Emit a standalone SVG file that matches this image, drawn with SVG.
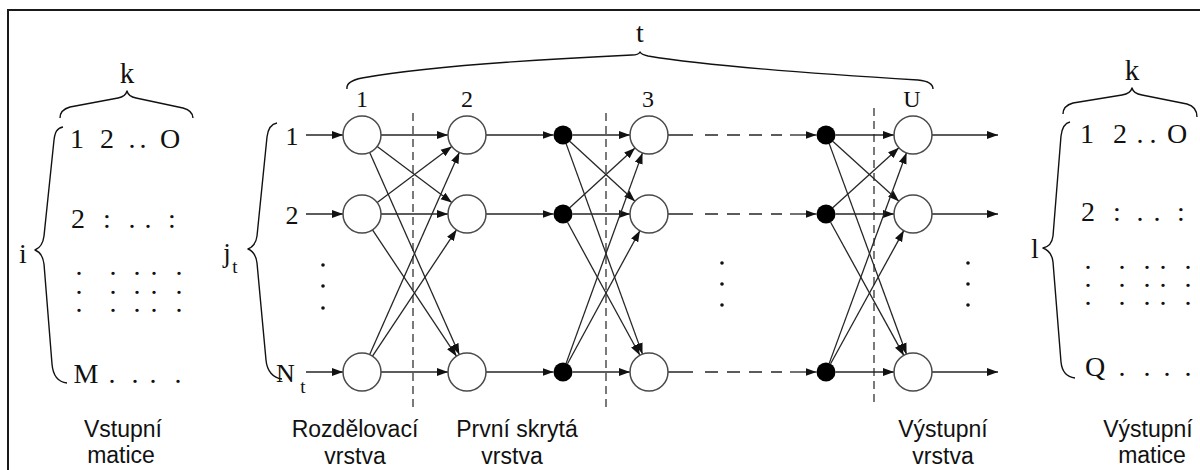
<svg xmlns="http://www.w3.org/2000/svg" width="1200" height="470" viewBox="0 0 1200 470">
  <style>
    .frame { fill: #fff; stroke: #1a1a1a; stroke-width: 2; }
    .brace { fill: none; stroke: #111; stroke-width: 1.4; stroke-linejoin: round; }
    .serif { font-family: "Liberation Serif", "Times New Roman", serif; fill: #111; }
    .sans { font-family: "Liberation Sans", Arial, sans-serif; fill: #111; font-size: 23px; text-anchor: middle; }
    .mat { font-size: 28px; text-anchor: middle; }
    .node { fill: #fff; stroke: #4a4a4a; stroke-width: 1.5; }
    .dot { fill: #000; }
    .edge { fill: none; stroke: #262626; stroke-width: 1.3; }
    .dash { fill: none; stroke: #262626; stroke-width: 1.3; stroke-dasharray: 13 9; }
    .sep { fill: none; stroke: #333; stroke-width: 1.3; stroke-dasharray: 8 5; }
    .ell { fill: #111; }
  </style>
  <defs>
    <marker id="ah" markerWidth="11" markerHeight="9" refX="11" refY="4.5" orient="auto" markerUnits="userSpaceOnUse">
      <path d="M0,0.5 L11,4.5 L0,8.5 z" fill="#111"/>
    </marker>
  </defs>

  <!-- frame -->
  <rect class="frame" x="8" y="10" width="1210" height="480"/>

  <!-- input matrix -->
  <g id="input-matrix">
    <text class="serif" x="127" y="83" font-size="29" text-anchor="middle">k</text>
    <path class="brace" d="M60,118 C60,112 63,109 70,107 L118,98 C123,97 126,95 127,91 C128,95 131,97 136,98 L183,108 C190,110 193,113 193,118"/>
    <text class="serif" x="23" y="263" font-size="28" text-anchor="middle">i</text>
    <path class="brace" d="M63,127 C57,128 55,132 54,140 L44,236 C43,244 40,248 35,250 C40,252 43,256 44,264 L52,364 C53,376 58,382 67,383"/>
    <text class="serif mat" x="77 107 132 143 170" y="148">12..O</text>
    <text class="serif mat" x="78 107 132 148 172" y="228">2:..:</text>
    <text class="serif mat" x="79 79 79 113 113 113 137 137 137 154 154 154 179 179 179" y="275 294 312 275 294 312 275 294 312 275 294 312 275 294 312">...............</text>
    <text class="serif mat" x="86 112 135 153 178" y="383">M....</text>
    <text class="sans" x="123" y="437">Vstupní</text>
    <text class="sans" x="121" y="463">matice</text>
  </g>

  <!-- input index brace -->
  <g id="input-index">
    <text class="serif" x="227" y="262" font-size="27" text-anchor="middle">j</text>
    <text class="serif" x="235" y="273" font-size="19" text-anchor="middle">t</text>
    <path class="brace" d="M277,123 C271,124 268,129 267,137 L257,236 C256,244 253,247 248,249 C253,251 256,255 257,263 L266,360 C267,371 273,378 282,379"/>
    <text class="serif" x="292" y="145" font-size="26" text-anchor="middle">1</text>
    <text class="serif" x="292" y="224" font-size="26" text-anchor="middle">2</text>
    <text class="serif" x="276" y="382" font-size="26">N</text>
    <text class="serif" x="303" y="393" font-size="19" text-anchor="middle">t</text>
    <circle class="ell" cx="323" cy="265" r="1.8"/>
    <circle class="ell" cx="323" cy="286" r="1.8"/>
    <circle class="ell" cx="323" cy="308" r="1.8"/>
  </g>

  <!-- time brace -->
  <g id="time-span">
    <text class="serif" x="640" y="42" font-size="28" text-anchor="middle">t</text>
    <path class="brace" d="M347,89 C346,83 352,80 362,78 Q440,64 632,55 C636,55 639,54 640,52 C641,54 644,55 648,56 Q720,68 918,80 C928,81 933,84 933,89"/>
    <text class="serif" x="362" y="107" font-size="24" text-anchor="middle">1</text>
    <text class="serif" x="467" y="107" font-size="24" text-anchor="middle">2</text>
    <text class="serif" x="648" y="107" font-size="24" text-anchor="middle">3</text>
    <text class="serif" x="912" y="107" font-size="24" text-anchor="middle">U</text>
  </g>

  <!-- layer boundaries -->
  <g id="separators">
    <line class="sep" x1="413" y1="113" x2="413" y2="410"/>
    <line class="sep" x1="606" y1="113" x2="606" y2="410"/>
    <line class="sep" x1="874" y1="108" x2="874" y2="405"/>
  </g>

  <!-- connectors -->
  <g id="connectors">
    <!-- inputs -->
    <line class="edge" x1="306" y1="135" x2="343" y2="135" marker-end="url(#ah)"/>
    <line class="edge" x1="306" y1="214" x2="343" y2="214" marker-end="url(#ah)"/>
    <line class="edge" x1="306" y1="372" x2="343" y2="372" marker-end="url(#ah)"/>
    <!-- distribution layer to first hidden layer -->
    <line class="edge" x1="381" y1="135" x2="448" y2="135" marker-end="url(#ah)"/>
    <line class="edge" x1="381" y1="214" x2="448" y2="214" marker-end="url(#ah)"/>
    <line class="edge" x1="381" y1="372" x2="448" y2="372" marker-end="url(#ah)"/>
    <line class="edge" x1="377.2" y1="146.4" x2="451.8" y2="202.6" marker-end="url(#ah)"/>
    <line class="edge" x1="377.2" y1="202.6" x2="451.8" y2="146.4" marker-end="url(#ah)"/>
    <line class="edge" x1="372.5" y1="229.8" x2="456.5" y2="356.2" marker-end="url(#ah)"/>
    <line class="edge" x1="372.5" y1="356.2" x2="456.5" y2="229.8" marker-end="url(#ah)"/>
    <line class="edge" x1="369.7" y1="152.4" x2="459.3" y2="354.6" marker-end="url(#ah)"/>
    <line class="edge" x1="369.7" y1="354.6" x2="459.3" y2="152.4" marker-end="url(#ah)"/>
    <!-- hidden outputs to junctions -->
    <line class="edge" x1="486" y1="135" x2="553.5" y2="135" marker-end="url(#ah)"/>
    <line class="edge" x1="486" y1="214" x2="553.5" y2="214" marker-end="url(#ah)"/>
    <line class="edge" x1="486" y1="372" x2="553.5" y2="372" marker-end="url(#ah)"/>
    <!-- junctions to layer 3 -->
    <line class="edge" x1="572.5" y1="135" x2="630" y2="135" marker-end="url(#ah)"/>
    <line class="edge" x1="572.5" y1="214" x2="630" y2="214" marker-end="url(#ah)"/>
    <line class="edge" x1="572.5" y1="372" x2="630" y2="372" marker-end="url(#ah)"/>
    <line class="edge" x1="570" y1="141.4" x2="635" y2="201.2" marker-end="url(#ah)"/>
    <line class="edge" x1="570" y1="207.6" x2="635" y2="147.9" marker-end="url(#ah)"/>
    <line class="edge" x1="567.5" y1="222.3" x2="639.9" y2="355.3" marker-end="url(#ah)"/>
    <line class="edge" x1="567.5" y1="363.7" x2="639.9" y2="230.7" marker-end="url(#ah)"/>
    <line class="edge" x1="566.2" y1="143.9" x2="642.5" y2="354.1" marker-end="url(#ah)"/>
    <line class="edge" x1="566.2" y1="363.1" x2="642.5" y2="152.9" marker-end="url(#ah)"/>
    <!-- elided layers -->
    <path class="edge" d="M668,135 H693 M668,214 H693 M668,372 H693"/>
    <path class="dash" d="M705,135 H782 M705,214 H782 M705,372 H782"/>
    <line class="edge" x1="790" y1="135" x2="816.5" y2="135" marker-end="url(#ah)"/>
    <line class="edge" x1="790" y1="214" x2="816.5" y2="214" marker-end="url(#ah)"/>
    <line class="edge" x1="790" y1="372" x2="816.5" y2="372" marker-end="url(#ah)"/>
    <circle class="ell" cx="722" cy="263" r="1.8"/>
    <circle class="ell" cx="722" cy="284" r="1.8"/>
    <circle class="ell" cx="722" cy="305" r="1.8"/>
    <!-- junctions to output layer -->
    <line class="edge" x1="835.5" y1="135" x2="894" y2="135" marker-end="url(#ah)"/>
    <line class="edge" x1="835.5" y1="214" x2="894" y2="214" marker-end="url(#ah)"/>
    <line class="edge" x1="835.5" y1="372" x2="894" y2="372" marker-end="url(#ah)"/>
    <line class="edge" x1="833" y1="141.4" x2="898.9" y2="201.2" marker-end="url(#ah)"/>
    <line class="edge" x1="833" y1="207.6" x2="898.9" y2="147.8" marker-end="url(#ah)"/>
    <line class="edge" x1="830.6" y1="222.3" x2="903.8" y2="355.4" marker-end="url(#ah)"/>
    <line class="edge" x1="830.6" y1="363.7" x2="903.8" y2="230.6" marker-end="url(#ah)"/>
    <line class="edge" x1="829.3" y1="143.9" x2="906.5" y2="354.2" marker-end="url(#ah)"/>
    <line class="edge" x1="829.3" y1="363.1" x2="906.5" y2="152.8" marker-end="url(#ah)"/>
    <!-- outputs -->
    <line class="edge" x1="932" y1="135" x2="998" y2="135" marker-end="url(#ah)"/>
    <line class="edge" x1="932" y1="214" x2="998" y2="214" marker-end="url(#ah)"/>
    <line class="edge" x1="932" y1="372" x2="998" y2="372" marker-end="url(#ah)"/>
    <circle class="ell" cx="968" cy="263" r="1.8"/>
    <circle class="ell" cx="968" cy="284" r="1.8"/>
    <circle class="ell" cx="968" cy="305" r="1.8"/>
  </g>

  <!-- distribution layer -->
  <g id="dist-1"><circle class="node" cx="362" cy="135" r="19"/></g>
  <g id="dist-2"><circle class="node" cx="362" cy="214" r="19"/></g>
  <g id="dist-n"><circle class="node" cx="362" cy="372" r="19"/></g>
  <!-- first hidden layer -->
  <g id="hid-1"><circle class="node" cx="467" cy="135" r="19"/></g>
  <g id="hid-2"><circle class="node" cx="467" cy="214" r="19"/></g>
  <g id="hid-n"><circle class="node" cx="467" cy="372" r="19"/></g>
  <g id="junc-a1"><circle class="dot" cx="563" cy="135" r="9.5"/></g>
  <g id="junc-a2"><circle class="dot" cx="563" cy="214" r="9.5"/></g>
  <g id="junc-an"><circle class="dot" cx="563" cy="372" r="9.5"/></g>
  <!-- layer 3 -->
  <g id="l3-1"><circle class="node" cx="649" cy="135" r="19"/></g>
  <g id="l3-2"><circle class="node" cx="649" cy="214" r="19"/></g>
  <g id="l3-n"><circle class="node" cx="649" cy="372" r="19"/></g>
  <g id="junc-b1"><circle class="dot" cx="826" cy="135" r="9.5"/></g>
  <g id="junc-b2"><circle class="dot" cx="826" cy="214" r="9.5"/></g>
  <g id="junc-bn"><circle class="dot" cx="826" cy="372" r="9.5"/></g>
  <!-- output layer U -->
  <g id="out-1"><circle class="node" cx="913" cy="135" r="19"/></g>
  <g id="out-2"><circle class="node" cx="913" cy="214" r="19"/></g>
  <g id="out-n"><circle class="node" cx="913" cy="372" r="19"/></g>

  <!-- layer captions -->
  <g id="captions">
    <text class="sans" x="355" y="437">Rozdělovací</text>
    <text class="sans" x="355" y="464">vrstva</text>
    <text class="sans" x="517" y="437">První skrytá</text>
    <text class="sans" x="512" y="464">vrstva</text>
    <text class="sans" x="943" y="437">Výstupní</text>
    <text class="sans" x="943" y="464">vrstva</text>
  </g>

  <!-- output matrix -->
  <g id="output-matrix">
    <text class="serif" x="1132" y="80" font-size="29" text-anchor="middle">k</text>
    <path class="brace" d="M1063,114 C1063,108 1066,105 1073,103 L1122,95 C1128,94 1131,92 1132,88 C1133,92 1136,94 1142,95 L1187,104 C1194,106 1197,110 1197,117"/>
    <text class="serif" x="1035" y="258" font-size="28" text-anchor="middle">l</text>
    <path class="brace" d="M1070,122 C1065,123 1062,128 1061,136 L1053,236 C1052,244 1048,247 1043,248 C1048,250 1052,253 1053,262 L1061,362 C1062,372 1067,377 1075,378"/>
    <text class="serif mat" x="1087 1120 1140 1153 1177" y="143">12..O</text>
    <text class="serif mat" x="1088 1117 1140 1157 1181" y="221">2:..:</text>
    <text class="serif mat" x="1088 1088 1088 1122 1122 1122 1147 1147 1147 1163 1163 1163 1188 1188 1188" y="269 287 305 269 287 305 269 287 305 269 287 305 269 287 305">...............</text>
    <text class="serif mat" x="1095 1122 1147 1167 1188" y="376">Q....</text>
    <text class="sans" x="1148" y="437">Výstupní</text>
    <text class="sans" x="1152" y="463">matice</text>
  </g>
</svg>
